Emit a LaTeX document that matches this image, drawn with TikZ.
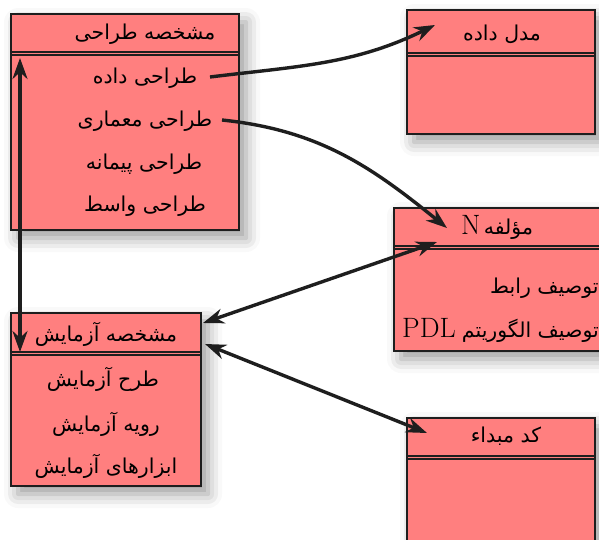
\documentclass[tikz,border=0pt]{standalone}
\usepackage{fontspec}
\newfontfamily\arabicfont[Script=Arabic]{DejaVu Sans}
\TeXXeTstate=1
\usetikzlibrary{arrows.meta,shadows.blur}
\definecolor{boxred}{HTML}{FF7F7F}
\definecolor{edge}{HTML}{1E1E1E}
\newcommand\artx[1]{{\arabicfont\beginR #1\endR}}
\newcommand\latn[1]{{\rmfamily\fontsize{28}{32}\selectfont #1}}
\tikzset{
  box/.style={draw=edge, line width=2.1pt, fill=boxred, anchor=north west, inner sep=0pt,
    blur shadow={shadow xshift=7pt, shadow yshift=-8pt, shadow blur radius=14pt}},
  lbl/.style={inner sep=0pt, font=\fontsize{20.5}{24}\selectfont},
  sepl/.style={draw=edge, line width=1.3pt},
  arr/.style={line width=3.4pt, draw=edge, -{Stealth[length=21pt,width=15pt]}},
  darr/.style={line width=3.4pt, draw=edge, {Stealth[length=21pt,width=15pt]}-{Stealth[length=21pt,width=15pt]}}
}
\begin{document}
\begin{tikzpicture}[x=1pt,y=1pt]
\useasboundingbox (0,0) rectangle (599,-540);
\begin{scope}
\clip (0,0) rectangle (599,-540);
% boxes
\node[box, minimum width=228pt, minimum height=216pt] (b1) at (10,-13) {};
\node[box, minimum width=188pt, minimum height=124pt] (b2) at (406,-9) {};
\node[box, minimum width=222pt, minimum height=143pt] (b3) at (393,-207) {};
\node[box, minimum width=190pt, minimum height=173pt] (b4) at (10,-312) {};
\node[box, minimum width=188pt, minimum height=153pt] (b5) at (406,-417) {};
% separators
\foreach \b/\d in {b1/39,b2/44,b3/39,b4/40,b5/39}{
  \draw[sepl] ([yshift=-\d pt]\b.north west) -- ([yshift=-\d pt]\b.north east);
  \draw[sepl] ([yshift=-\d pt-3pt]\b.north west) -- ([yshift=-\d pt-3pt]\b.north east);
}
% texts
\node[lbl] (h1) at (145,-34) {\artx{مشخصه طراحی}};
\node[lbl] (t11) at (145,-78) {\artx{طراحی داده}};
\node[lbl] (t12) at (145,-121) {\artx{طراحی معماری}};
\node[lbl] (t13) at (144,-164) {\artx{طراحی پیمانه}};
\node[lbl] (t14) at (145,-206) {\artx{طراحی واسط}};
\node[lbl] (h2) at (502,-34) {\artx{مدل داده}};
\node[lbl] (h3) at (497,-227) {\beginR{\arabicfont مؤلفه}\,\latn{N}\endR};
\node[lbl, anchor=west] (t31) at (490,-288) {\artx{توصیف رابط}};
\node[lbl, anchor=west] (t32) at (402,-330) {\beginR{\arabicfont توصیف الگوریتم} \beginL\latn{PDL}\endL\endR};
\node[lbl] (h4) at (106,-334) {\artx{مشخصه آزمایش}};
\node[lbl] (t41) at (103,-379) {\artx{طرح آزمایش}};
\node[lbl] (t42) at (106,-424) {\artx{رویه آزمایش}};
\node[lbl] (t43) at (106,-466) {\artx{ابزارهای آزمایش}};
\node[lbl] (h5) at (506,-436) {\artx{کد مبداء}};
% connector ends
\coordinate (s1) at (210,-77);
\coordinate (e1) at (435,-25);
\coordinate (s2) at (222,-120);
\coordinate (e2) at (447,-228);
\coordinate (p3a) at (203,-323);
\coordinate (p3b) at (437,-242);
\coordinate (p4a) at (205,-344);
\coordinate (p4b) at (427,-433);
\coordinate (p5a) at (20,-58);
\coordinate (p5b) at (20,-352);
% connectors
\draw[arr] (s1) to[out=7,in=-154] (e1);
\draw[arr] (s2) to[out=-6,in=141] (e2);
\draw[darr] (p3a) -- (p3b);
\draw[darr] (p4a) -- (p4b);
\draw[darr] (p5a) -- (p5b);
\end{scope}
\end{tikzpicture}
\end{document}
